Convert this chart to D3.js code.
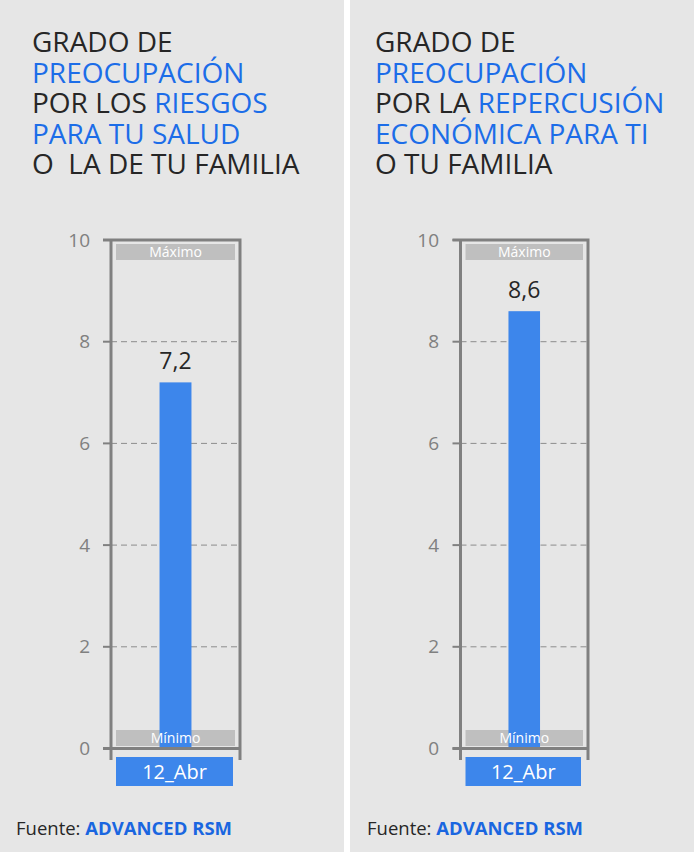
<!DOCTYPE html>
<html><head><meta charset="utf-8">
<script src="https://cdn.jsdelivr.net/npm/d3@7"></script>
<style>
html,body{margin:0;padding:0;background:#fff;}
svg{display:block;}
text{font-family:"Open Sans","Noto Sans",sans-serif;}
</style></head>
<body>
<script>
// ---- data ----
const categories = ["12_Abr"];
const seriesValues = [7.2, 8.6];           // one value per panel
const yTicks = [0, 2, 4, 6, 8, 10];
const titleLines1 = [
  [["GRADO DE", 0]],
  [["PREOCUPACIÓN", 1]],
  [["POR LOS ", 0], ["RIESGOS", 1]],
  [["PARA TU SALUD", 1]],
  [["O  LA DE TU FAMILIA", 0]]
];
const titleLines2 = [
  [["GRADO DE", 0]],
  [["PREOCUPACIÓN", 1]],
  [["POR LA ", 0], ["REPERCUSIÓN", 1]],
  [["ECONÓMICA PARA TI", 1]],
  [["O TU FAMILIA", 0]]
];
const bandLabels = ["Máximo", "Mínimo"];
const sourceLabel = "Fuente: ";
const sourceName = "ADVANCED RSM";

// ---- layout ----
const W = 694, H = 852;
const svg = d3.select("body").append("svg").attr("width", W).attr("height", H);
svg.append("rect").attr("width", W).attr("height", H).attr("fill", "#ffffff");

const panelDefs = [
  {x0: 0, w: 344, titleX: 32, boxL: 111, boxR: 240, tickX: 90, srcX: 16, title: titleLines1, value: seriesValues[0]},
  {x0: 350, w: 344, titleX: 375, boxL: 460.5, boxR: 588, tickX: 439, srcX: 367, title: titleLines2, value: seriesValues[1]}
];

const y = d3.scaleLinear().domain([0, 10]).range([748.5, 240]);
const dark = "#262626", blue = "#1c6de8", barBlue = "#3d86eb", grey = "#808080";

panelDefs.forEach(p => {
  const g = svg.append("g");
  g.append("rect").attr("x", p.x0).attr("y", 0).attr("width", p.w).attr("height", H).attr("fill", "#e6e6e6");

  // title: one text element per line
  p.title.forEach((line, i) => {
    const t = g.append("text").attr("font-size", 28).attr("x", p.titleX).attr("y", 52 + i * 30.5)
      .style("white-space", "pre");
    line.forEach(seg => {
      t.append("tspan").text(seg[0]).attr("fill", seg[1] ? blue : dark);
    });
  });

  const x = d3.scaleBand().domain(categories).range([p.boxL, p.boxR]).paddingInner(0).paddingOuter(1.52);
  const innerL = p.boxL + 3, innerR = p.boxR - 3;

  // grid lines (dashed)
  g.selectAll(".grid").data(yTicks.filter(d => d > 0 && d < 10)).join("line")
    .attr("x1", p.boxL).attr("x2", p.boxR).attr("y1", d => y(d)).attr("y2", d => y(d))
    .attr("stroke", "#8c8c8c").attr("stroke-width", 1).attr("stroke-dasharray", "6,4");

  // tick marks
  g.selectAll(".tk").data(yTicks).join("line")
    .attr("x1", p.boxL - 8).attr("x2", p.boxL).attr("y1", d => y(d)).attr("y2", d => y(d))
    .attr("stroke", grey).attr("stroke-width", 2);

  // tick labels
  g.selectAll(".tl").data(yTicks).join("text")
    .attr("x", p.tickX).attr("y", d => y(d)).attr("dy", "0.35em")
    .attr("text-anchor", "end").attr("font-size", 19).attr("fill", grey).text(d => d);

  // bands (Máximo/Mínimo)
  const bands = [{lab: bandLabels[0], y0: y(10) + 4, h: 16}, {lab: bandLabels[1], y0: y(0) - 18.5, h: 16}];
  g.selectAll(".band").data(bands).join("rect")
    .attr("x", innerL + 2).attr("width", innerR - innerL - 4)
    .attr("y", d => d.y0).attr("height", d => d.h).attr("fill", "#bfbfbf");

  // bar
  const v = p.value;
  g.append("rect").attr("x", x(categories[0])).attr("width", x.bandwidth())
    .attr("y", y(v)).attr("height", y(0) - y(v)).attr("fill", barBlue);

  // band labels on top
  g.selectAll(".bandt").data(bands).join("text")
    .attr("x", (p.boxL + p.boxR) / 2).attr("y", d => d.y0 + d.h / 2).attr("dy", "0.36em")
    .attr("text-anchor", "middle").attr("font-size", 14).attr("fill", "#ffffff").text(d => d.lab);

  // value label
  g.append("text").attr("x", x(categories[0]) + x.bandwidth() / 2).attr("y", y(v) - 13)
    .attr("text-anchor", "middle").attr("font-size", 23).attr("fill", dark)
    .text(d3.format(".1f")(v).replace(".", ","));

  // box frame
  g.append("path")
    .attr("d", `M${p.boxL - 8},${y(10)}H${p.boxR}V${y(0) + 11.5}M${p.boxL},${y(10)}V${y(0) + 11.5}M${p.boxL - 8},${y(0)}H${p.boxR}`)
    .attr("fill", "none").attr("stroke", grey).attr("stroke-width", 3);

  // category label box
  g.append("rect").attr("x", p.boxL + 5).attr("y", 757).attr("width", p.boxR - p.boxL - 12).attr("height", 29)
    .attr("fill", barBlue);
  g.append("text").attr("x", (p.boxL + p.boxR) / 2 - 1).attr("y", 771.5).attr("dy", "0.36em")
    .attr("text-anchor", "middle").attr("font-size", 20).attr("fill", "#ffffff").text(categories[0]);

  // source
  const s = g.append("text").attr("x", p.srcX).attr("y", 835).attr("font-size", 18.5).style("white-space", "pre");
  s.append("tspan").text(sourceLabel).attr("fill", dark);
  s.append("tspan").text(sourceName).attr("fill", "#1a66e0").attr("font-weight", "bold");
});
</script>
</body></html>
